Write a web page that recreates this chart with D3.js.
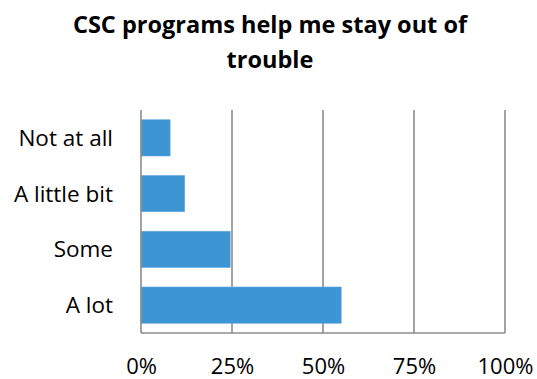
<!DOCTYPE html>
<html>
<head>
<meta charset="utf-8">
<script src="https://cdn.jsdelivr.net/npm/d3@7"></script>
<style>
  html, body { margin: 0; padding: 0; background: #fff; }
  svg { display: block; }
  text { font-family: "Open Sans", "DejaVu Sans", sans-serif; fill: #000; }
</style>
</head>
<body>
<svg id="chart" width="537" height="379"></svg>
<script>
// Survey responses: share of respondents per answer
const titleLines = ["CSC programs help me stay out of", "trouble"];
const categories = ["Not at all", "A little bit", "Some", "A lot"];
const shares = [0.08, 0.12, 0.245, 0.55];
const tickValues = [0, 0.25, 0.5, 0.75, 1];
const tickLabels = ["0%", "25%", "50%", "75%", "100%"];

const svg = d3.select("#chart");
const plot = { left: 141, right: 505, top: 110, bottom: 333 };

const x = d3.scaleLinear().domain([0, 1]).range([plot.left, plot.right]);
const y = d3.scaleBand()
  .domain(categories)
  .range([plot.top, plot.bottom])
  .paddingInner(0.35)
  .paddingOuter(0.175);

// Title
svg.append("text")
  .attr("text-anchor", "middle")
  .style("font-weight", "bold")
  .style("font-size", "23.5px")
  .selectAll("tspan")
  .data(titleLines)
  .join("tspan")
  .attr("x", 270)
  .attr("y", (d, i) => 33 + i * 35)
  .text(d => d);

// Vertical gridlines
svg.append("g")
  .selectAll("line")
  .data(tickValues.slice(1))
  .join("line")
  .attr("x1", d => x(d)).attr("x2", d => x(d))
  .attr("y1", plot.top).attr("y2", plot.bottom)
  .attr("stroke", "#8c8c8c")
  .attr("stroke-width", 1.6);

// Bars
svg.append("g")
  .selectAll("rect")
  .data(categories)
  .join("rect")
  .attr("x", x(0))
  .attr("y", d => y(d))
  .attr("width", (d, i) => x(shares[i]) - x(0))
  .attr("height", y.bandwidth())
  .attr("fill", "#3d95d4")
  .attr("stroke", "#62aae0")
  .attr("stroke-width", 0.6);

// Left category axis
const yAxis = d3.axisLeft(y).tickSize(0).tickPadding(28);
const gy = svg.append("g").attr("transform", `translate(${plot.left},0)`).call(yAxis);
gy.select(".domain").attr("stroke", "#8c8c8c").attr("stroke-width", 1.6)
  .attr("d", `M0,${plot.top}V${plot.bottom}`);
gy.selectAll("text").style("font-size", "22.5px").attr("dy", "0.35em");

// Bottom value axis
const xAxis = d3.axisBottom(x)
  .tickValues(tickValues)
  .tickFormat((d, i) => tickLabels[i])
  .tickSize(0)
  .tickPadding(41);
const gx = svg.append("g").attr("transform", `translate(0,${plot.bottom})`).call(xAxis);
gx.select(".domain").attr("stroke", "#8c8c8c").attr("stroke-width", 1.6)
  .attr("d", `M${plot.left},0H${plot.right}`);
gx.selectAll("text").style("font-size", "22px").attr("dy", 0);
</script>
</body>
</html>
